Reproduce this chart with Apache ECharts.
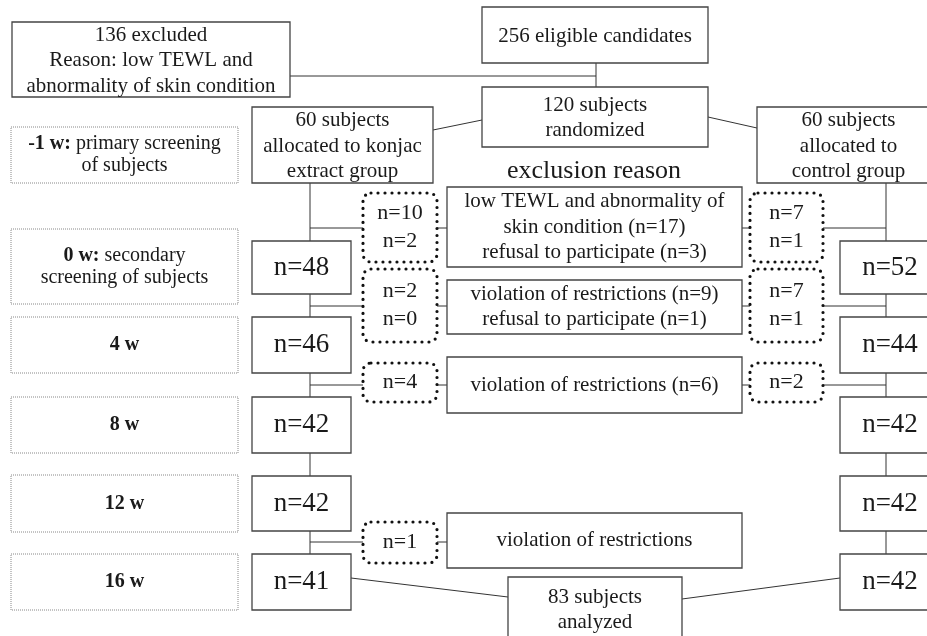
<!DOCTYPE html>
<html>
<head>
<meta charset="utf-8">
<script src="https://cdn.jsdelivr.net/npm/echarts@6/dist/echarts.min.js"></script>
<style>
  html, body { margin: 0; padding: 0; background: #fff; overflow: hidden; }
  #flow { width: 927px; height: 636px; }
</style>
</head>
<body>
<div id="flow"></div>
<script>
// counts
var eligible = 256
var excluded = 136
var randomized = 120
var allocated = [60, 60]
var analyzed = 83
var stageWeeks = ["-1 w:", "0 w:", "4 w", "8 w", "12 w", "16 w"]
var stageNotes = [["primary screening", "of subjects"], ["secondary", "screening of subjects"], [], [], [], []]
var konjacN = [48, 46, 42, 42, 41]
var controlN = [52, 44, 42, 42, 42]
var konjacOut = [[10, 2], [2, 0], [4], [], [1]]
var controlOut = [[7, 1], [7, 1], [2], [], []]
var reasons = [
    ["low TEWL and abnormality of", "skin condition (n=17)", "refusal to participate (n=3)"],
    ["violation of restrictions (n=9)", "refusal to participate (n=1)"],
    ["violation of restrictions (n=6)"],
    [],
    ["violation of restrictions"]
]

// layout (diagram units = pixels of the original figure)
var FONT = "'Liberation Serif', 'Times New Roman', serif"
var INK = "#1a1a1a"
var stageRows = [[127, 183], [229, 304], [317, 373], [397, 453], [475, 532], [554, 610]]
var countRows = [[241, 294], [317, 373], [397, 453], [476, 531], [554, 610]]
var outRows = [[193, 262], [269, 342], [363, 402], null, [522, 563]]
var reasonRows = [[187, 267], [280, 334], [357, 413], null, [513, 568]]
var branchY = [228, 306, 385, null, 542]
var leftX = 310, rightX = 886

var boxes = []   // {r:[x0,y0,x1,y1], lines, kind, size}
var links = []   // [[x,y],[x,y]]

boxes.push({ r: [12, 22, 290, 97], kind: "solid", size: 21, lh: 25.5, dy: 1,
    lines: [excluded + " excluded", "Reason: low TEWL and", "abnormality of skin condition"] })
boxes.push({ r: [482, 7, 708, 63], kind: "solid", size: 21, lh: 25.5, dy: 1, lines: [eligible + " eligible candidates"] })
boxes.push({ r: [482, 87, 708, 147], kind: "solid", size: 21, lh: 25.5, dy: 1, lines: [randomized + " subjects", "randomized"] })
boxes.push({ r: [252, 107, 433, 183], kind: "solid", size: 21, lh: 25.5, dy: 1,
    lines: [allocated[0] + " subjects", "allocated to konjac", "extract group"] })
boxes.push({ r: [757, 107, 940, 183], kind: "solid", size: 21, lh: 25.5, dy: 1,
    lines: [allocated[1] + " subjects", "allocated to", "control group"] })
boxes.push({ r: [508, 577, 682, 680], kind: "solid", size: 21, lh: 25, dy: -19,
    lines: [analyzed + " subjects", "analyzed"] })

stageWeeks.forEach(function (w, i) {
    boxes.push({ r: [11, stageRows[i][0], 238, stageRows[i][1]], kind: "stage", size: 20, lh: 22,
        week: w, notes: stageNotes[i] })
})
konjacN.forEach(function (n, i) {
    boxes.push({ r: [252, countRows[i][0], 351, countRows[i][1]], kind: "solid", size: 27, lh: 30, lines: ["n=" + n] })
})
controlN.forEach(function (n, i) {
    boxes.push({ r: [840, countRows[i][0], 940, countRows[i][1]], kind: "solid", size: 27, lh: 30, lines: ["n=" + n] })
})
konjacOut.forEach(function (arr, i) {
    if (!arr.length) return
    boxes.push({ r: [363, outRows[i][0], 437, outRows[i][1]], kind: "dots", size: 22, lh: 28,
        lines: arr.map(function (v) { return "n=" + v }) })
})
controlOut.forEach(function (arr, i) {
    if (!arr.length) return
    boxes.push({ r: [750, outRows[i][0], 823, outRows[i][1]], kind: "dots", size: 22, lh: 28,
        lines: arr.map(function (v) { return "n=" + v }) })
})
reasons.forEach(function (arr, i) {
    if (!arr.length) return
    boxes.push({ r: [447, reasonRows[i][0], 742, reasonRows[i][1]], kind: "solid", size: 21, lh: 25.5, lines: arr })
})

// connectors
links.push([[290, 76], [596, 76]])
links.push([[596, 63], [596, 87]])
links.push([[433, 130], [482, 120]])
links.push([[708, 117], [757, 128]])
for (var i = 0; i < countRows.length; i++) {
    var y0 = i === 0 ? 183 : countRows[i - 1][1]
    links.push([[leftX, y0], [leftX, countRows[i][0]]])
    links.push([[rightX, y0], [rightX, countRows[i][0]]])
    if (branchY[i] !== null) {
        links.push([[leftX, branchY[i]], [363, branchY[i]]])
        links.push([[437, branchY[i]], [447, branchY[i]]])
        if (controlOut[i].length) {
            links.push([[742, branchY[i]], [750, branchY[i]]])
            links.push([[823, branchY[i]], [rightX, branchY[i]]])
        }
    }
}
links.push([[351, 578], [508, 597]])
links.push([[682, 599], [840, 578]])

var chartDom = document.getElementById("flow")
var myChart = echarts.init(chartDom)
var option

function renderBox(params, api) {
    var b = boxes[params.dataIndex]
    var p0 = api.coord([api.value(0), api.value(1)])
    var p1 = api.coord([api.value(2), api.value(3)])
    var w = p1[0] - p0[0], h = p1[1] - p0[1]
    var rectStyle
    if (b.kind === "dots") {
        rectStyle = { fill: "#fff", stroke: "#111", lineWidth: 3.2, lineDash: [0, 7], lineCap: "round" }
    } else if (b.kind === "stage") {
        rectStyle = { fill: "#fff", stroke: "#888", lineWidth: 1, lineDash: [1, 1] }
    } else {
        rectStyle = { fill: "#fff", stroke: "#444", lineWidth: 1.3 }
    }
    var children = [{
        type: "rect",
        shape: { x: p0[0], y: p0[1], width: w, height: h, r: b.kind === "dots" ? 8 : 0 },
        style: rectStyle
    }]
    var cx = p0[0] + w / 2, cy = p0[1] + h / 2 + (b.dy || 0)
    if (b.kind === "stage") {
        var txt = "{b|" + b.week + "}"
        if (b.notes.length) {
            txt += "{r| " + b.notes[0] + "}\n{r|" + b.notes[1] + "}"
        }
        children.push({
            type: "text",
            style: {
                x: cx, y: cy, align: "center", verticalAlign: "middle", text: txt,
                fill: INK, font: b.size + "px " + FONT,
                rich: {
                    b: { fontWeight: "bold", fontSize: b.size, fontFamily: FONT, lineHeight: b.lh, fill: INK },
                    r: { fontSize: b.size, fontFamily: FONT, lineHeight: b.lh, fill: INK }
                }
            }
        })
    } else {
        children.push({
            type: "text",
            style: {
                x: cx, y: cy, align: "center", verticalAlign: "middle",
                text: b.lines.join("\n"), lineHeight: b.lh,
                fill: INK, font: b.size + "px " + FONT
            }
        })
    }
    return { type: "group", children: children }
}

function renderLink(params, api) {
    var seg = links[params.dataIndex]
    return {
        type: "line",
        shape: {
            x1: api.coord(seg[0])[0], y1: api.coord(seg[0])[1],
            x2: api.coord(seg[1])[0], y2: api.coord(seg[1])[1]
        },
        style: { stroke: "#333", lineWidth: 1 }
    }
}

option = {
    animation: false,
    grid: { left: 0, right: 0, top: 0, bottom: 0 },
    xAxis: { type: "value", min: 0, max: 927, show: false },
    yAxis: { type: "value", min: 0, max: 636, inverse: true, show: false },
    graphic: [{
        type: "text",
        left: 507, top: 158,
        style: { text: "exclusion reason", font: "26px " + FONT, fill: INK }
    }],
    series: [
        {
            type: "custom",
            renderItem: renderLink,
            clip: false,
            data: links.map(function (s) { return [s[0][0], s[0][1]] }),
            z: 1
        },
        {
            type: "custom",
            renderItem: renderBox,
            clip: false,
            data: boxes.map(function (b) { return b.r }),
            z: 2
        }
    ]
}

option && myChart.setOption(option)
</script>
</body>
</html>
